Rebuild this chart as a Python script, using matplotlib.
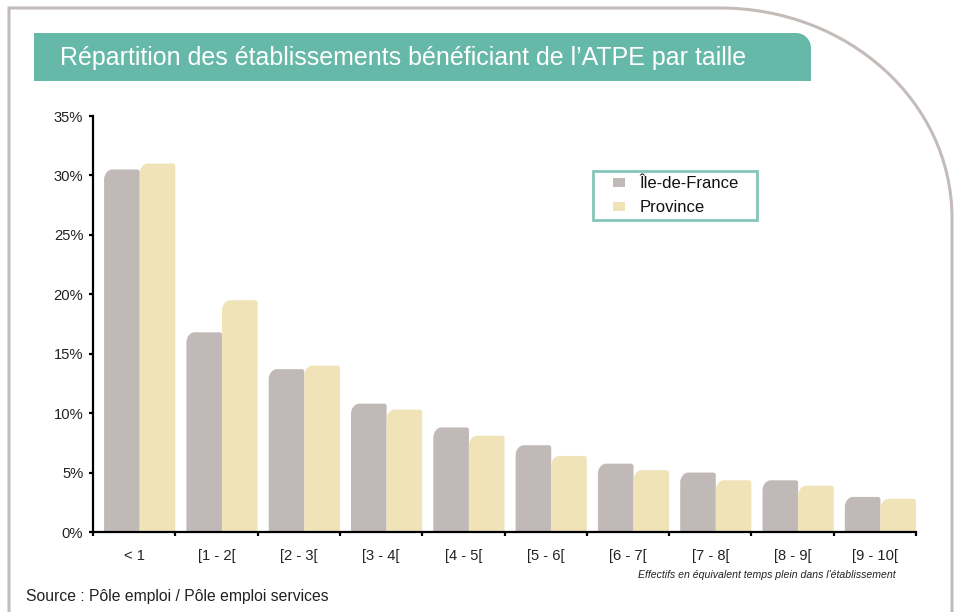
import numpy as np
import matplotlib
matplotlib.use('Agg')
import matplotlib.pyplot as plt
from matplotlib.path import Path
from matplotlib.patches import PathPatch, Patch, Rectangle
from matplotlib.legend_handler import HandlerPatch

plt.rcParams['font.family'] = ['Liberation Sans', 'DejaVu Sans']

# data
categories = ['< 1', '[1 - 2[', '[2 - 3[', '[3 - 4[', '[4 - 5[', '[5 - 6[',
              '[6 - 7[', '[7 - 8[', '[8 - 9[', '[9 - 10[']
idf = [30.5, 16.8, 13.7, 10.8, 8.8, 7.3, 5.75, 5.0, 4.35, 2.95]
province = [31.0, 19.5, 14.0, 10.3, 8.1, 6.4, 5.2, 4.35, 3.9, 2.8]
series_names = ['Île-de-France', 'Province']

col_idf = '#c1b9b7'
col_prov = '#f0e3b7'
teal = '#66b8a8'
frame_col = '#c3bcb9'
txt = '#222222'

fig = plt.figure(figsize=(9.6, 6.12), dpi=100)

# background layer in pixel coords (frame + title banner)
bg = fig.add_axes([0, 0, 1, 1], zorder=0)
bg.set_xlim(0, 960)
bg.set_ylim(612, 0)
bg.axis('off')

k = 0.5523
frame = Path([(9, 640), (9, 8), (720, 8),
              (720 + k * 232, 8), (952, 218 - k * 210), (952, 218),
              (952, 640)],
             [Path.MOVETO, Path.LINETO, Path.LINETO,
              Path.CURVE4, Path.CURVE4, Path.CURVE4, Path.LINETO])
bg.add_patch(PathPatch(frame, fill=False, edgecolor=frame_col, lw=2.2))

r = 15
banner = Path([(34, 81), (34, 33), (811 - r, 33),
               (811 - r + k * r, 33), (811, 33 + r - k * r), (811, 33 + r),
               (811, 81), (34, 81)],
              [Path.MOVETO, Path.LINETO, Path.LINETO,
               Path.CURVE4, Path.CURVE4, Path.CURVE4,
               Path.LINETO, Path.CLOSEPOLY])
bg.add_patch(PathPatch(banner, facecolor=teal, edgecolor='none'))
bg.text(60, 58, "Répartition des établissements bénéficiant de l\u2019ATPE par taille",
        color='white', fontsize=18, va='center', ha='left')

bg.text(26, 597, 'Source : Pôle emploi / Pôle emploi services',
        fontsize=11.3, color=txt, va='center', ha='left')

bg.text(896, 575, "Effectifs en équivalent temps plein dans l'établissement",
        fontsize=7.6, style='italic', color=txt, ha='right', va='center')

# chart
ax = fig.add_axes([93 / 960, 1 - 532 / 612, 823 / 960, 416 / 612], zorder=1)
ax.patch.set_alpha(0)

x = np.arange(len(categories))
gap = 0.135
w = (1 - gap) / 2
b1 = ax.bar(x + gap, idf, width=w, align='edge', color=col_idf)
b2 = ax.bar(x + gap + w, province, width=w, align='edge', color=col_prov)

ax.set_xlim(0, len(categories))
ax.set_ylim(0, 35)

# replace the plain rectangles with rounded-top versions
def rounded(rect, rx1=0.1, ry1=0.85, rx2=0.03, ry2=0.2):
    x0, y0 = rect.get_x(), rect.get_y()
    x1, y1 = x0 + rect.get_width(), y0 + rect.get_height()
    verts = [(x0, y0), (x0, y1 - ry1),
             (x0, y1 - ry1 * 0.45), (x0 + rx1 * 0.45, y1), (x0 + rx1, y1),
             (x1 - rx2, y1),
             (x1 - rx2 * 0.45, y1), (x1, y1 - ry2 * 0.45), (x1, y1 - ry2),
             (x1, y0), (x0, y0)]
    codes = [Path.MOVETO, Path.LINETO,
             Path.CURVE4, Path.CURVE4, Path.CURVE4,
             Path.LINETO,
             Path.CURVE4, Path.CURVE4, Path.CURVE4,
             Path.LINETO, Path.CLOSEPOLY]
    return Path(verts, codes)

for bars in (b1, b2):
    for rect in bars:
        ax.add_patch(PathPatch(rounded(rect), facecolor=rect.get_facecolor(),
                               edgecolor='none'))
        rect.set_visible(False)

for s in ['top', 'right']:
    ax.spines[s].set_visible(False)
for s in ['left', 'bottom']:
    ax.spines[s].set_linewidth(1.6)
    ax.spines[s].set_color('black')

ax.set_yticks(np.arange(0, 36, 5))
ax.set_yticklabels([f'{v}%' for v in range(0, 36, 5)])
ax.tick_params(axis='y', direction='out', length=3, width=1.6, pad=4,
               labelsize=10.6, labelcolor=txt)

ax.set_xticks(np.arange(0, len(categories) + 1))
ax.set_xticklabels([])
ax.set_xticks(x + 0.5, minor=True)
ax.set_xticklabels(categories, minor=True)
ax.tick_params(axis='x', which='major', direction='out', length=3, width=1.6)
ax.tick_params(axis='x', which='minor', length=0, pad=12, labelsize=10.6,
               labelcolor=txt)

# legend: small squares set in from the frame
def square(legend, orig_handle, xdescent, ydescent, width, height, fontsize):
    sw = width * 0.42
    sh = height * 0.75
    return Rectangle((-xdescent + width - sw, -ydescent + (height - sh) / 2),
                     sw, sh)

handles = [Patch(facecolor=col_idf, edgecolor='none'),
           Patch(facecolor=col_prov, edgecolor='none')]
leg = ax.legend(handles, series_names, loc='upper left',
                bbox_to_anchor=(593 / 960, 1 - 221 / 612, 164 / 960, 50 / 612),
                bbox_transform=fig.transFigure, borderaxespad=0, mode='expand',
                fontsize=12, handlelength=1.6, handleheight=0.7,
                handletextpad=0.9, labelspacing=0.55, borderpad=0.3,
                fancybox=False, frameon=True,
                handler_map={Patch: HandlerPatch(patch_func=square)})
leg.get_frame().set_edgecolor(teal)
leg.get_frame().set_linewidth(2)
for t in leg.get_texts():
    t.set_color('#111111')

fig.savefig('out.png', dpi=100)
